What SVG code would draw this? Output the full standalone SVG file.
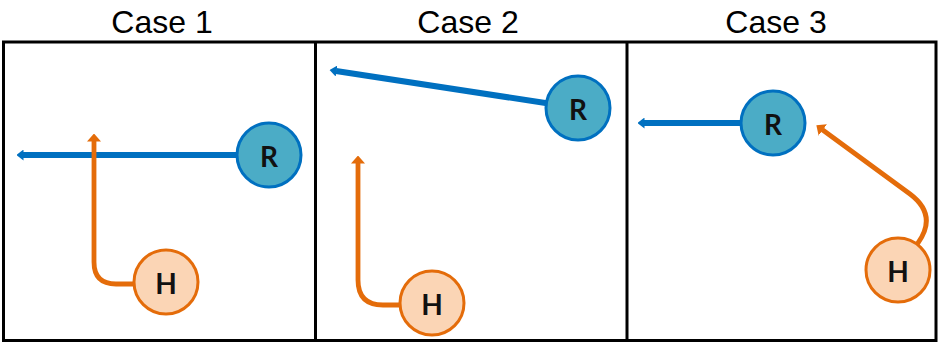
<svg xmlns="http://www.w3.org/2000/svg" width="938" height="342" viewBox="0 0 938 342">
  <style>
    .title { font-family: "Liberation Sans", Arial, sans-serif; font-size: 32px; fill: #000; text-anchor: middle; }
    .frame { fill: none; stroke: #000; stroke-width: 3; }
    .robot circle { fill: #4BACC6; stroke: #0070C0; stroke-width: 3; }
    .human circle { fill: #FBD5B5; stroke: #E46C0A; stroke-width: 3; }
    .lbl { font-family: Lato, "Open Sans", sans-serif; font-weight: bold; font-size: 28px; fill: #111; text-anchor: middle; dominant-baseline: central; }
    .rpath { fill: none; stroke: #0070C0; stroke-width: 6; marker-end: url(#headR); }
    .hpath { fill: none; stroke: #E46C0A; stroke-width: 4.8; marker-end: url(#headH); }
  </style>
  <defs>
    <marker id="headR" markerUnits="userSpaceOnUse" viewBox="0 0 7 11" markerWidth="7" markerHeight="11" refX="0.5" refY="5.5" orient="auto">
      <path d="M0,0 L7,5.5 L0,11 z" fill="#0070C0"/>
    </marker>
    <marker id="headH" markerUnits="userSpaceOnUse" viewBox="0 0 8 14" markerWidth="8" markerHeight="14" refX="0.5" refY="7" orient="auto">
      <path d="M0,0 L8,7 L0,14 z" fill="#E46C0A"/>
    </marker>
  </defs>

  <!-- column titles -->
  <text class="title" x="162" y="33">Case 1</text>
  <text class="title" x="468" y="33">Case 2</text>
  <text class="title" x="776" y="33">Case 3</text>

  <!-- panel frame -->
  <g id="frame">
    <rect class="frame" x="3.5" y="42" width="932.5" height="298.5"/>
    <line class="frame" x1="315.5" y1="42" x2="315.5" y2="340.5"/>
    <line class="frame" x1="627" y1="42" x2="627" y2="340.5"/>
  </g>

  <!-- trajectories -->
  <g id="connectors">
    <path class="rpath" d="M269 155 H23"/>
    <path class="hpath" d="M166 284 H116 Q94 284 94 262 V141"/>
    <path class="rpath" d="M578 108 L336 71"/>
    <path class="hpath" d="M432 305 H383 Q358 305 358 280 V163"/>
    <path class="rpath" d="M773 123 H644"/>
    <path class="hpath" d="M898 270 L918 243 Q938 215 910 194 L822.4 129.7"/>
  </g>

  <!-- agents -->
  <g id="robot1" class="robot"><circle cx="269" cy="155" r="32"/><text class="lbl" x="269" y="156">R</text></g>
  <g id="human1" class="human"><circle cx="166" cy="282" r="32"/><text class="lbl" x="166" y="283">H</text></g>
  <g id="robot2" class="robot"><circle cx="578" cy="108" r="32"/><text class="lbl" x="578" y="109">R</text></g>
  <g id="human2" class="human"><circle cx="432" cy="303" r="32"/><text class="lbl" x="432" y="304">H</text></g>
  <g id="robot3" class="robot"><circle cx="773" cy="123" r="32"/><text class="lbl" x="773" y="124">R</text></g>
  <g id="human3" class="human"><circle cx="898" cy="270" r="32"/><text class="lbl" x="898" y="271">H</text></g>
</svg>
